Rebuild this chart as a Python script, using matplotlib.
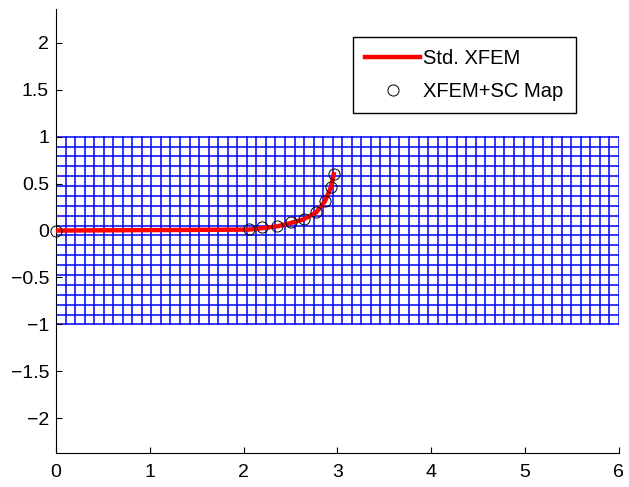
import numpy as np
import matplotlib
matplotlib.use('Agg')
import matplotlib.pyplot as plt

plt.rcParams['font.family'] = ['Liberation Sans', 'DejaVu Sans']

# mesh: 59 x 19 elements over [0, 6] x [-1, 1]
mesh_x0, mesh_x1, n_elem_x = 0.0, 6.0, 59
mesh_y0, mesh_y1, n_elem_y = -1.0, 1.0, 19

# crack path, standard XFEM (red line)
std_x = [0.0, 2.06, 2.20, 2.36, 2.50, 2.64, 2.77, 2.865, 2.93, 2.96]
std_y = [0.0, 0.01, 0.025, 0.045, 0.08, 0.12, 0.19, 0.31, 0.46, 0.60]

# crack path, XFEM + SC map (circles)
sc_x = [0.0, 2.06, 2.20, 2.36, 2.50, 2.64, 2.77, 2.865, 2.93, 2.96]
sc_y = [0.0, 0.015, 0.036, 0.053, 0.093, 0.125, 0.196, 0.31, 0.46, 0.60]

xticks = [0, 1, 2, 3, 4, 5, 6]
yticks = [-2, -1.5, -1, -0.5, 0, 0.5, 1, 1.5, 2]

fig = plt.figure(figsize=(6.29, 4.87), dpi=100)
ax = fig.add_axes([0.089, 0.0698, 0.895, 0.9117])

gx = np.linspace(mesh_x0, mesh_x1, n_elem_x + 1)
gy = np.linspace(mesh_y0, mesh_y1, n_elem_y + 1)
for x in gx:
    ax.plot([x, x], [mesh_y0, mesh_y1], color='blue', lw=1.1, zorder=1)
for y in gy:
    ax.plot([mesh_x0, mesh_x1], [y, y], color='blue', lw=1.1, zorder=1)

ax.plot(std_x, std_y, color='red', lw=3.2, label='Std. XFEM', zorder=3)
ax.plot(sc_x, sc_y, 'o', mfc='none', mec='black', ms=8, mew=0.7,
        label='XFEM+SC Map', zorder=4, clip_on=False)

ax.set_xlim(0, 6)
ax.set_ylim(-2.37, 2.36)
ax.set_xticks(xticks)
ax.set_xticklabels([str(t) for t in xticks])
ax.set_yticks(yticks)
ax.set_yticklabels(['\u22122', '\u22121.5', '\u22121', '\u22120.5', '0', '0.5', '1', '1.5', '2'])
ax.tick_params(direction='in', length=4, labelsize=14, top=False, right=False)
ax.tick_params(axis='x', pad=8)
ax.tick_params(axis='y', pad=5)
ax.spines['top'].set_visible(False)
ax.spines['right'].set_visible(False)

leg = ax.legend(loc='upper left', bbox_to_anchor=(0.5275, 0.937), fontsize=14.5,
                fancybox=False, framealpha=1, edgecolor='black',
                handlelength=2.75, handletextpad=0.15, borderpad=0.6,
                labelspacing=0.7, borderaxespad=0)
leg.get_frame().set_linewidth(1.0)

fig.savefig('out.png', dpi=100)
